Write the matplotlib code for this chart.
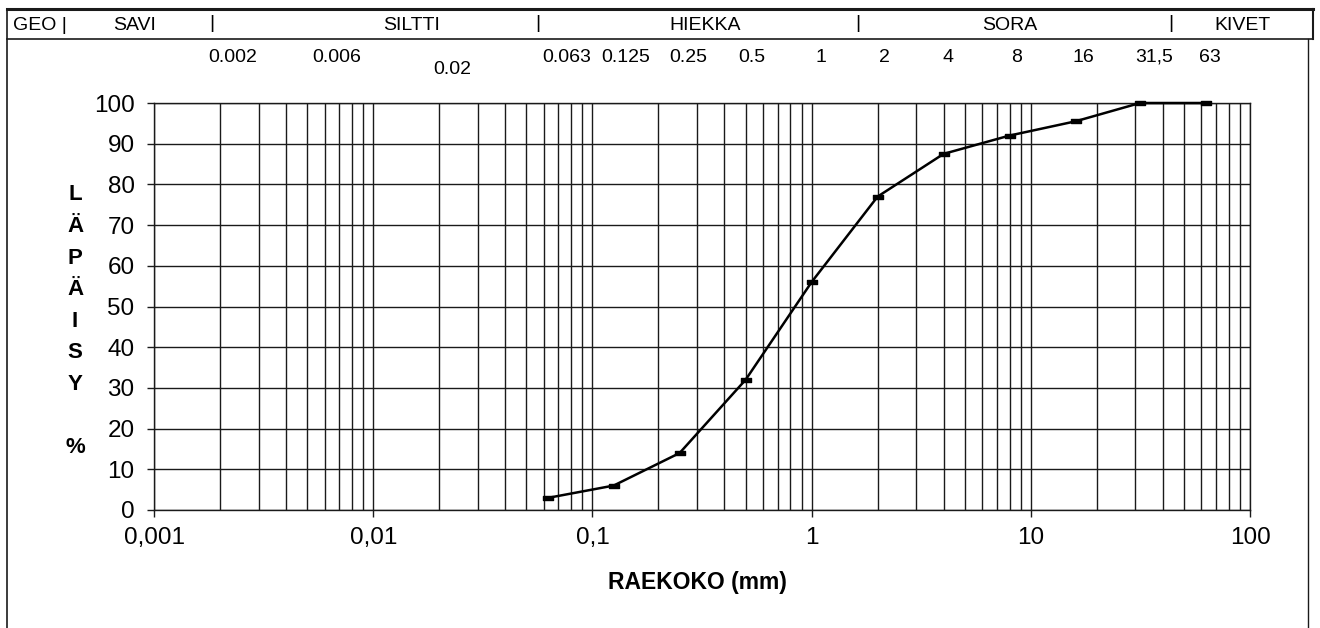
import matplotlib
matplotlib.use("Agg")
import matplotlib.pyplot as plt
from matplotlib.path import Path
from matplotlib.ticker import LogLocator, FixedLocator, FixedFormatter, NullFormatter

plt.rcParams['font.family'] = ['Liberation Sans', 'DejaVu Sans']

# ---- data ----
sieve_mm = [0.063, 0.125, 0.25, 0.5, 1, 2, 4, 8, 16, 31.5, 63]
passing_pct = [3, 6, 14, 32, 56, 77, 87.5, 92, 95.5, 100, 100]

x_ticks = [0.001, 0.01, 0.1, 1, 10, 100]
x_tick_labels = ["0,001", "0,01", "0,1", "1", "10", "100"]
y_ticks = list(range(0, 101, 10))

header_labels = ["SAVI", "SILTTI", "HIEKKA", "SORA", "KIVET"]
sieve_labels = ["0.002", "0.006", "0.02", "0.063", "0.125", "0.25", "0.5",
                "1", "2", "4", "8", "16", "31,5", "63"]
y_label_letters = ["L", "Ä", "P", "Ä", "I", "S", "Y", "", "%"]

# ---- layout (pixels) ----
W, H = 1320, 628
header_x = [135, 412, 705, 1010, 1242]
sep_x = [212, 538, 858, 1171]
sieve_x = [233, 337, 452, 567, 626, 688, 752, 821, 884, 948, 1017, 1083, 1154, 1210]
sieve_y = [57, 57, 70, 57, 57, 57, 57, 57, 57, 57, 57, 57, 57, 57]

fig = plt.figure(figsize=(W / 100, H / 100), dpi=100)
fig.patch.set_facecolor("white")

ax_l, ax_r, ax_t, ax_b = 154, 1250, 103, 510
ax = fig.add_axes([ax_l / W, 1 - ax_b / H, (ax_r - ax_l) / W, (ax_b - ax_t) / H])

lc = "#1a1a1a"
ax.set_xscale("log")
ax.set_xlim(0.001, 100)
ax.set_ylim(0, 100)

ax.xaxis.set_major_locator(FixedLocator(x_ticks))
ax.xaxis.set_major_formatter(FixedFormatter(x_tick_labels))
ax.xaxis.set_minor_locator(LogLocator(base=10, subs=range(2, 10), numticks=100))
ax.xaxis.set_minor_formatter(NullFormatter())
ax.set_yticks(y_ticks)

ax.grid(True, which="both", axis="x", color=lc, linewidth=1.0)
ax.grid(True, which="major", axis="y", color=lc, linewidth=1.0)
ax.tick_params(axis="x", which="major", direction="out", length=5, width=1.0,
               color=lc, labelsize=17.5, pad=7)
ax.tick_params(axis="x", which="minor", length=0)
ax.tick_params(axis="y", which="major", direction="out", length=5, width=1.0,
               color=lc, labelsize=17.5, pad=9)
for s in ax.spines.values():
    s.set_color(lc)
    s.set_linewidth(1.0)

marker_path = Path([(-1, -0.5), (1, -0.5), (1, 0.5), (-1, 0.5), (-1, -0.5)],
                   [Path.MOVETO, Path.LINETO, Path.LINETO, Path.LINETO, Path.CLOSEPOLY])
ax.plot(sieve_mm, passing_pct, color="black", linewidth=1.8,
        marker=marker_path, markersize=7, markerfacecolor="black",
        markeredgecolor="black", clip_on=False, zorder=5)

# ---- overlay in pixel coordinates for the form frame and labels ----
ov = fig.add_axes([0, 0, 1, 1], facecolor="none")
ov.set_xlim(0, W)
ov.set_ylim(H, 0)
ov.axis("off")

# header frame
ov.plot([7, 1313], [9, 9], color=lc, linewidth=2.2)
ov.plot([7, 1313], [39, 39], color=lc, linewidth=1.2)
ov.plot([7, 7], [9, H], color=lc, linewidth=1.2)
ov.plot([1313, 1313], [9, 39], color=lc, linewidth=1.5)
ov.plot([1308, 1308], [39, H], color=lc, linewidth=1.0)

ov.text(13, 25, "GEO |", fontsize=14, ha="left", va="center", color="black")
for lab, x in zip(header_labels, header_x):
    ov.text(x, 25, lab, fontsize=14, ha="center", va="center", color="black")
for x in sep_x:
    ov.text(x, 24, "|", fontsize=14, ha="center", va="center", color="black")
for lab, x, y in zip(sieve_labels, sieve_x, sieve_y):
    ov.text(x, y, lab, fontsize=14, ha="center", va="center", color="black")

# vertical y-axis label
for i, ch in enumerate(y_label_letters):
    if ch:
        ov.text(75, 195 + i * 31.6, ch, fontsize=16, fontweight="bold",
                ha="center", va="center", color="black")

ov.text(697, 583, "RAEKOKO (mm)", fontsize=16.5, fontweight="bold",
        ha="center", va="center", color="black")

fig.savefig("out.png", dpi=100, facecolor="white")
